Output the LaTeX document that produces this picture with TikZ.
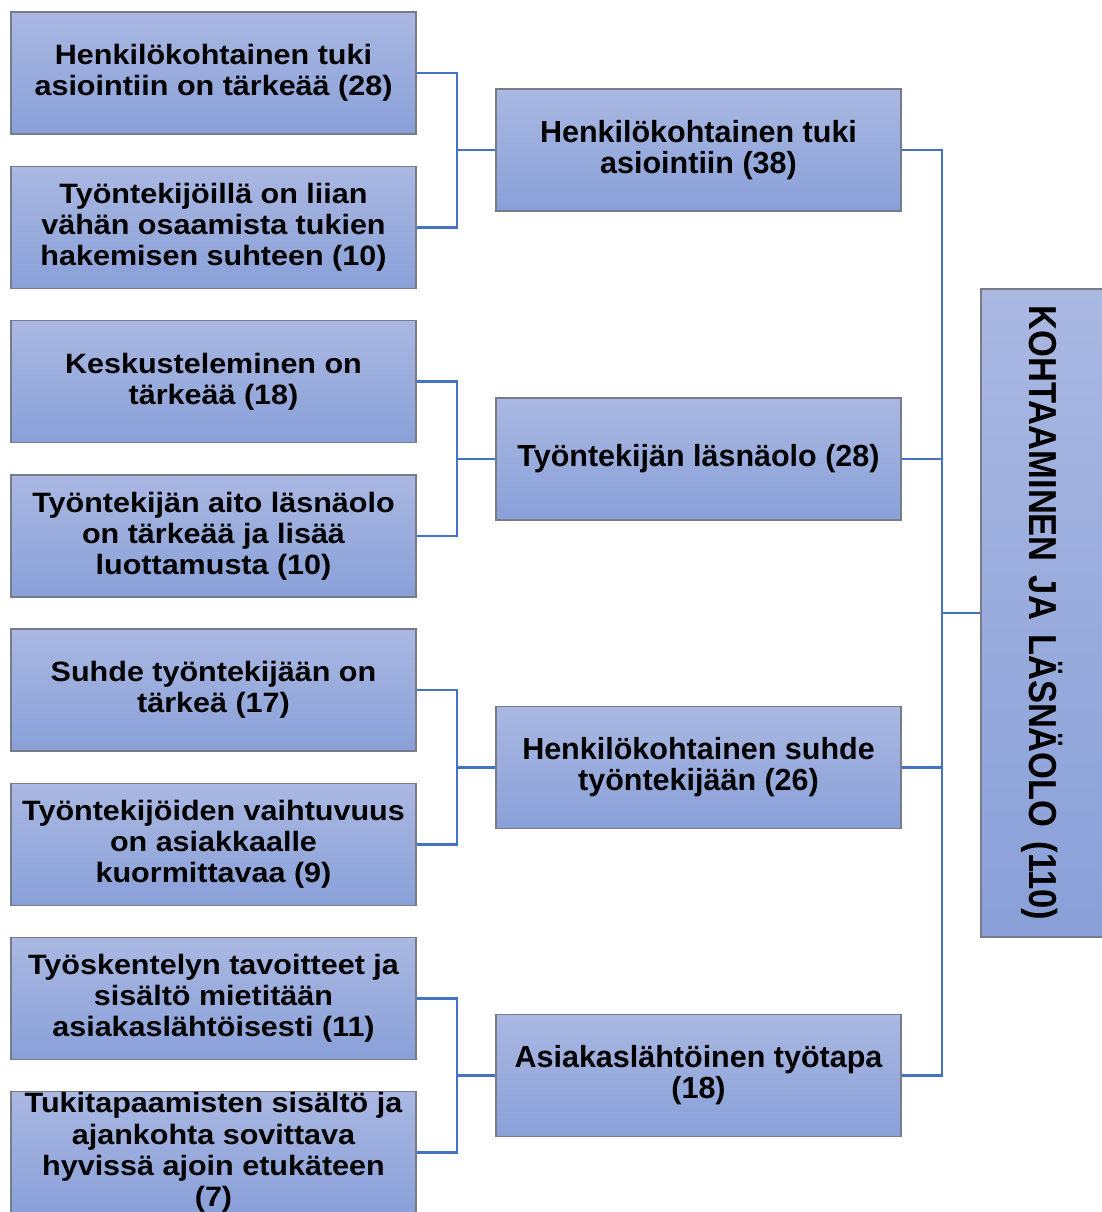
\documentclass[tikz,border=0pt]{standalone}
\usepackage{fontspec}
\setmainfont{Liberation Sans}
\usetikzlibrary{calc}
\definecolor{boxtop}{RGB}{170,184,226}
\definecolor{boxbot}{RGB}{137,160,216}
\definecolor{boxedge}{RGB}{120,124,136}
\definecolor{link}{RGB}{68,114,196}
\begin{document}
\begin{tikzpicture}[x=1pt,y=1pt,
  box/.style={draw=boxedge,line width=1.2pt,top color=boxtop,bottom color=boxbot,
    minimum width=405pt,minimum height=122pt,inner sep=0pt,align=center,text=black},
  leaf/.style={box,font=\fontsize{28}{31.2}\bfseries\addfontfeature{FakeStretch=1.09}},
  topic/.style={box,font=\fontsize{30.5}{31}\bfseries},
  conn/.style={draw=link,line width=2.4pt}]
\useasboundingbox (0,0) rectangle (1102,-1212);

% left column
\node[leaf] (l1) at (213.5,-73)     {Henkilökohtainen tuki\\asiointiin on tärkeää (28)};
\node[leaf] (l2) at (213.5,-227.5)  {Työntekijöillä on liian\\vähän osaamista tukien\\hakemisen suhteen (10)};
\node[leaf] (l3) at (213.5,-381.5)  {Keskusteleminen on\\tärkeää (18)};
\node[leaf] (l4) at (213.5,-536)    {Työntekijän aito läsnäolo\\on tärkeää ja lisää\\luottamusta (10)};
\node[leaf] (l5) at (213.5,-690)    {Suhde työntekijään on\\tärkeä (17)};
\node[leaf] (l6) at (213.5,-844.5)  {Työntekijöiden vaihtuvuus\\on asiakkaalle\\kuormittavaa (9)};
\node[leaf] (l7) at (213.5,-998.5)  {Työskentelyn tavoitteet ja\\sisältö mietitään\\asiakaslähtöisesti (11)};
\node[leaf] (l8) at (213.5,-1152.5) {Tukitapaamisten sisältö ja\\ajankohta sovittava\\hyvissä ajoin etukäteen\\(7)};

% middle column
\node[topic] (m1) at (698.5,-150)    {Henkilökohtainen tuki\\asiointiin (38)};
\node[topic] (m2) at (698.5,-459)    {Työntekijän läsnäolo (28)};
\node[topic] (m3) at (698.5,-767.5)  {Henkilökohtainen suhde\\työntekijään (26)};
\node[topic] (m4) at (698.5,-1075.5) {Asiakaslähtöinen työtapa\\(18)};

% main theme
\node[box,minimum width=123pt,minimum height=648pt] (root) at (1042.5,-613)
  {\rotatebox{-90}{\fontsize{39}{40}\bfseries\addfontfeature{FakeStretch=0.885}%
   KOHTAAMINEN\hspace{14pt}JA\hspace{14pt}LÄSNÄOLO\hspace{14pt}(110)}};

% junction points
\coordinate (j1) at (457,-150);
\coordinate (j2) at (457,-459);
\coordinate (j3) at (457,-767.5);
\coordinate (j4) at (457,-1075.5);
\coordinate (jr) at (942,-613);

\draw[conn] (l1.east) -| (j1) -- (m1.west);
\draw[conn] (l2.east) -| (j1);
\draw[conn] (l3.east) -| (j2) -- (m2.west);
\draw[conn] (l4.east) -| (j2);
\draw[conn] (l5.east) -| (j3) -- (m3.west);
\draw[conn] (l6.east) -| (j3);
\draw[conn] (l7.east) -| (j4) -- (m4.west);
\draw[conn] (l8.east) -| (j4);

\draw[conn] (m1.east) -| (jr) -- (root.west);
\draw[conn] (m2.east) -| (jr);
\draw[conn] (m3.east) -| (jr);
\draw[conn] (m4.east) -| (jr);
\end{tikzpicture}
\end{document}
